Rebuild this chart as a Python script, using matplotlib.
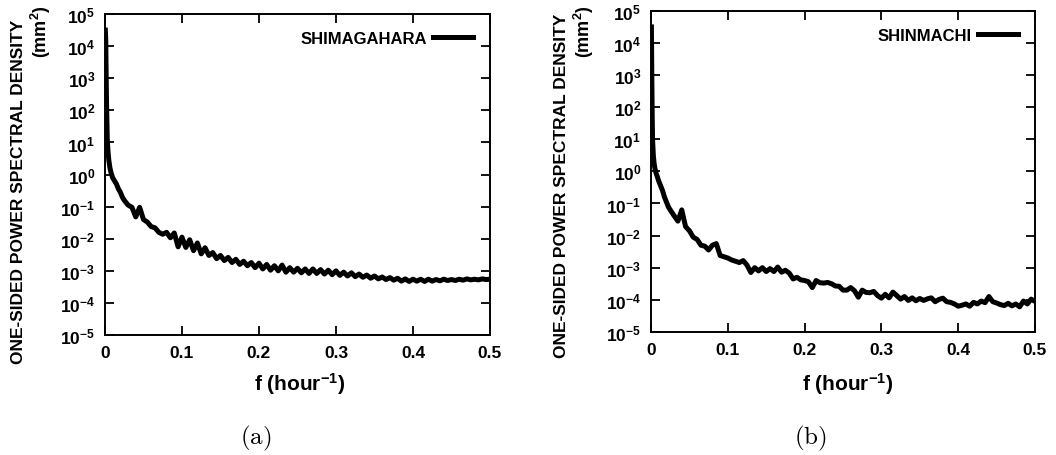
import matplotlib
matplotlib.use("Agg")
import matplotlib.pyplot as plt
from matplotlib.ticker import FixedLocator, FuncFormatter
import numpy as np

plt.rcParams['font.family'] = ['Liberation Sans', 'DejaVu Sans']
plt.rcParams['font.weight'] = 'bold'
plt.rcParams['mathtext.fontset'] = 'custom'
plt.rcParams['mathtext.rm'] = 'Liberation Sans'
plt.rcParams['mathtext.bf'] = 'Liberation Sans:bold'
plt.rcParams['mathtext.default'] = 'bf'

# frequency (1/hour) and log10 of PSD (mm^2)
freq_a = [0.0005, 0.001, 0.0015, 0.002, 0.003, 0.004, 0.005, 0.0065, 0.008, 0.01,
          0.0125, 0.015, 0.0175, 0.02, 0.0225, 0.025, 0.03, 0.035, 0.04, 0.045,
          0.05, 0.055, 0.06, 0.065, 0.07, 0.075, 0.08, 0.085, 0.09, 0.095,
          0.10, 0.105, 0.11, 0.115, 0.12, 0.125, 0.13, 0.135, 0.14, 0.145,
          0.15, 0.155, 0.16, 0.165, 0.17, 0.175, 0.18, 0.185, 0.19, 0.195,
          0.20, 0.205, 0.21, 0.215, 0.22, 0.225, 0.23, 0.235, 0.24, 0.245,
          0.25, 0.255, 0.26, 0.265, 0.27, 0.275, 0.28, 0.285, 0.29, 0.295,
          0.30, 0.305, 0.31, 0.315, 0.32, 0.325, 0.33, 0.335, 0.34, 0.345,
          0.35, 0.355, 0.36, 0.365, 0.37, 0.375, 0.38, 0.385, 0.39, 0.395,
          0.40, 0.405, 0.41, 0.415, 0.42, 0.425, 0.43, 0.435, 0.44, 0.445,
          0.45, 0.455, 0.46, 0.465, 0.47, 0.475, 0.48, 0.485, 0.49, 0.495, 0.50]
logpsd_a = [4.5, 4.2, 3.2, 2.3, 1.1, 0.7, 0.45, 0.2, 0.05, -0.1,
            -0.2, -0.3, -0.45, -0.55, -0.7, -0.8, -0.95, -1.02, -1.32, -1.02,
            -1.4, -1.48, -1.62, -1.66, -1.8, -1.86, -1.8, -1.97, -1.82, -2.25,
            -1.95, -2.27, -2.03, -2.37, -2.13, -2.47, -2.28, -2.52, -2.43, -2.62,
            -2.52, -2.68, -2.58, -2.74, -2.64, -2.8, -2.7, -2.84, -2.74, -2.9,
            -2.76, -2.94, -2.8, -2.98, -2.84, -3.0, -2.82, -3.04, -2.9, -3.04,
            -2.92, -3.06, -2.94, -3.08, -2.94, -3.08, -2.96, -3.1, -2.98, -3.12,
            -3.0, -3.14, -3.04, -3.16, -3.06, -3.18, -3.1, -3.2, -3.13, -3.23,
            -3.16, -3.25, -3.19, -3.27, -3.21, -3.29, -3.23, -3.32, -3.25, -3.33,
            -3.26, -3.32, -3.26, -3.33, -3.26, -3.32, -3.27, -3.31, -3.26, -3.3,
            -3.27, -3.3, -3.26, -3.29, -3.25, -3.28, -3.26, -3.28, -3.25, -3.27, -3.26]

freq_b = [0.0005, 0.001, 0.0015, 0.002, 0.003, 0.004, 0.005, 0.0065, 0.008, 0.01,
          0.0125, 0.015, 0.0175, 0.02, 0.0225, 0.025, 0.03, 0.035, 0.04, 0.045,
          0.05, 0.055, 0.06, 0.065, 0.07, 0.075, 0.08, 0.085, 0.09, 0.095,
          0.10, 0.105, 0.11, 0.115, 0.12, 0.125, 0.13, 0.135, 0.14, 0.145,
          0.15, 0.155, 0.16, 0.165, 0.17, 0.175, 0.18, 0.185, 0.19, 0.195,
          0.20, 0.205, 0.21, 0.215, 0.22, 0.225, 0.23, 0.235, 0.24, 0.245,
          0.25, 0.255, 0.26, 0.265, 0.27, 0.275, 0.28, 0.285, 0.29, 0.295,
          0.30, 0.305, 0.31, 0.315, 0.32, 0.325, 0.33, 0.335, 0.34, 0.345,
          0.35, 0.355, 0.36, 0.365, 0.37, 0.375, 0.38, 0.385, 0.39, 0.395,
          0.40, 0.405, 0.41, 0.415, 0.42, 0.425, 0.43, 0.435, 0.44, 0.445,
          0.45, 0.455, 0.46, 0.465, 0.47, 0.475, 0.48, 0.485, 0.49, 0.495, 0.50]
logpsd_b = [4.5, 3.0, 1.8, 1.0, 0.5, 0.25, 0.1, -0.05, -0.15, -0.3,
            -0.45, -0.6, -0.8, -0.95, -1.1, -1.2, -1.38, -1.55, -1.2, -1.72,
            -1.85, -2.05, -2.12, -2.3, -2.33, -2.45, -2.3, -2.25, -2.62, -2.66,
            -2.7, -2.76, -2.8, -2.84, -2.78, -2.92, -3.15, -3.0, -3.1, -3.0,
            -3.12, -3.03, -3.12, -2.98, -3.14, -3.08, -3.17, -3.35, -3.3, -3.38,
            -3.4, -3.44, -3.62, -3.4, -3.47, -3.48, -3.46, -3.5, -3.57, -3.58,
            -3.7, -3.7, -3.62, -3.72, -3.92, -3.7, -3.77, -3.78, -3.74, -3.87,
            -3.95, -3.83, -3.94, -3.76, -3.87, -3.98, -3.9, -4.02, -3.94, -4.03,
            -3.96, -4.02, -3.97, -3.94, -4.06, -3.99, -3.95, -4.06, -4.08, -4.13,
            -4.2, -4.17, -4.13, -4.2, -4.08, -4.13, -4.04, -4.09, -3.9, -4.06,
            -4.1, -4.15, -4.18, -4.11, -4.19, -4.13, -4.22, -4.04, -4.13, -3.98, -4.05]

stations = ['SHIMAGAHARA', 'SHINMACHI']
panel_tags = ['(a)', '(b)']
decades = list(range(-5, 6))
xticks = [0, 0.1, 0.2, 0.3, 0.4, 0.5]

fig = plt.figure(figsize=(10.56, 4.56), dpi=100)
ax_a = fig.add_axes([0.0994, 0.263, 0.3646, 0.704])
ax_b = fig.add_axes([0.6165, 0.270, 0.3636, 0.704])

series = [(ax_a, freq_a, logpsd_a), (ax_b, freq_b, logpsd_b)]
for i, (ax, f, lp) in enumerate(series):
    psd = 10.0 ** np.array(lp)
    ax.plot(f, psd, color='black', lw=3.6, solid_joinstyle='round', label=stations[i])
    ax.set_yscale('log')
    ax.set_xlim(0, 0.5)
    ax.set_ylim(1e-5, 1e5)
    ax.yaxis.set_major_locator(FixedLocator([10.0 ** d for d in decades]))
    ax.yaxis.set_minor_locator(FixedLocator([]))
    ax.yaxis.set_major_formatter(FuncFormatter(lambda v, p: r'$10^{%d}$' % round(np.log10(v))))
    ax.xaxis.set_major_locator(FixedLocator(xticks))
    ax.xaxis.set_major_formatter(FuncFormatter(lambda v, p: '0' if v == 0 else '%.1f' % v))
    ax.tick_params(direction='in', length=6.5, width=1.3, top=True, right=True,
                   labelsize=12.5, pad=7)
    for s in ax.spines.values():
        s.set_linewidth(1.4)
    ax.legend(loc='upper right', frameon=False, markerfirst=False, fontsize=12,
              handlelength=2.4, handletextpad=0.4, borderaxespad=0.6)

# y labels (two rotated lines), x labels and panel tags
fig.text(19 / 1056, 1 - 20 / 456, 'ONE-SIDED POWER SPECTRAL DENSITY', rotation=90,
         ha='center', va='top', fontsize=12.5)
fig.text(41 / 1056, 1 - 5 / 456, r'(mm$^{2}$)', rotation=90, ha='center', va='top', fontsize=13)
fig.text(562 / 1056, 1 - 14 / 456, 'ONE-SIDED POWER SPECTRAL DENSITY', rotation=90,
         ha='center', va='top', fontsize=12.5)
fig.text(584 / 1056, 1 - 5 / 456, r'(mm$^{2}$)', rotation=90, ha='center', va='top', fontsize=13)

fig.text(300 / 1056, 1 - 384 / 456, r'f (hour$^{-1}$)', ha='center', va='center', fontsize=15)
fig.text(848 / 1056, 1 - 384 / 456, r'f (hour$^{-1}$)', ha='center', va='center', fontsize=15)

fig.text(256 / 1056, 1 - 438 / 456, r'$\mathrm{(a)}$', ha='center', va='center',
         fontsize=18, math_fontfamily='cm')
fig.text(810 / 1056, 1 - 438 / 456, r'$\mathrm{(b)}$', ha='center', va='center',
         fontsize=18, math_fontfamily='cm')

plt.savefig('out.png', dpi=100)
